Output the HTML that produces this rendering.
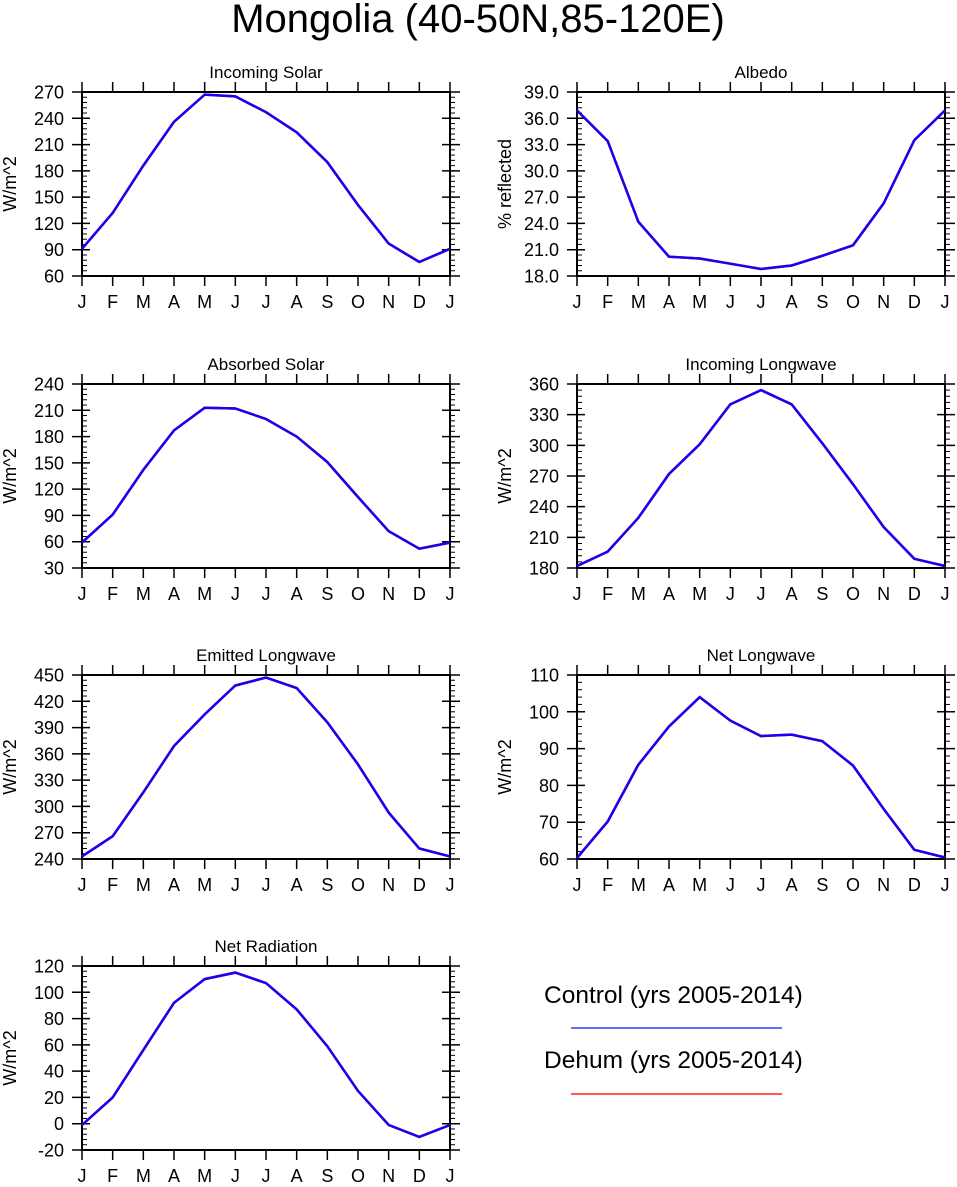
<!DOCTYPE html>
<html><head><meta charset="utf-8">
<style>
html,body{margin:0;padding:0;background:#fff;}
svg{display:block;font-family:"Liberation Sans",Arial,sans-serif;}
</style></head>
<body>
<svg id="chart" width="957" height="1187" viewBox="0 0 957 1187" xmlns="http://www.w3.org/2000/svg">
<text x="478" y="32" font-size="40" text-anchor="middle">Mongolia (40-50N,85-120E)</text>
<g>
<text x="544" y="1003" font-size="24.5">Control (yrs 2005-2014)</text>
<line x1="571" y1="1028" x2="782" y2="1028" stroke="#3b3bff" stroke-width="1.5"/>
<text x="544" y="1068" font-size="24.5">Dehum (yrs 2005-2014)</text>
<line x1="571" y1="1094" x2="782" y2="1094" stroke="#ff2020" stroke-width="1.5"/>
</g>
</svg>
<script>
const months = ["J","F","M","A","M","J","J","A","S","O","N","D","J"];
const incomingSolar = [91,132,186,236,267,265,247,224,190,141,97,76,91];
const albedo = [36.9,33.4,24.2,20.2,20.0,19.4,18.8,19.2,20.3,21.5,26.3,33.5,36.9];
const absorbedSolar = [59,91,142,187,213,212,200,180,151,111,72,52,59];
const incomingLW = [182,196,229,272,301,340,354,340,302,262,220,189,182];
const emittedLW = [243,266,316,369,405,438,447,435,396,348,293,252,243];
const netLW = [60.3,70.2,85.6,96,104,97.6,93.4,93.8,92,85.4,73.6,62.5,60.4];
const netRad = [-1,20,56,92,110,115,107,87,59,25,-1,-10,-1];
const ticksIncomingSolar = [60,90,120,150,180,210,240,270];
const ticksAlbedo = [18,21,24,27,30,33,36,39];
const ticksAbsorbed = [30,60,90,120,150,180,210,240];
const ticksIncomingLW = [180,210,240,270,300,330,360];
const ticksEmitted = [240,270,300,330,360,390,420,450];
const ticksNetLW = [60,70,80,90,100,110];
const ticksNetRad = [-20,0,20,40,60,80,100,120];

const NS="http://www.w3.org/2000/svg";
const svg=document.getElementById('chart');
function mk(tag,attrs,parent){const e=document.createElementNS(NS,tag);for(const k in attrs)e.setAttribute(k,attrs[k]);(parent||svg).appendChild(e);return e;}

const panels=[
 {name:"incoming-solar",title:"Incoming Solar",ylab:"W/m^2",data:incomingSolar,ticks:ticksIncomingSolar,dec:0,x:82,y:92},
 {name:"albedo",title:"Albedo",ylab:"% reflected",data:albedo,ticks:ticksAlbedo,dec:1,x:577,y:92},
 {name:"absorbed-solar",title:"Absorbed Solar",ylab:"W/m^2",data:absorbedSolar,ticks:ticksAbsorbed,dec:0,x:82,y:384},
 {name:"incoming-longwave",title:"Incoming Longwave",ylab:"W/m^2",data:incomingLW,ticks:ticksIncomingLW,dec:0,x:577,y:384},
 {name:"emitted-longwave",title:"Emitted Longwave",ylab:"W/m^2",data:emittedLW,ticks:ticksEmitted,dec:0,x:82,y:675},
 {name:"net-longwave",title:"Net Longwave",ylab:"W/m^2",data:netLW,ticks:ticksNetLW,dec:0,x:577,y:675},
 {name:"net-radiation",title:"Net Radiation",ylab:"W/m^2",data:netRad,ticks:ticksNetRad,dec:0,x:82,y:966}
];
const W=368,H=184;
panels.forEach(p=>{
 const g=mk('g',{});
 
 
 const lo=p.ticks[0],hi=p.ticks[p.ticks.length-1];
 const sx=i=>p.x+i*W/(months.length-1);
 const sy=v=>p.y+H-(v-lo)/(hi-lo)*H;
 const t=mk('text',{x:p.x+W/2,y:p.y-14,'font-size':17,'text-anchor':'middle'},g);
 
 
 t.textContent=p.title;
 const yl=mk('text',{transform:`translate(${p.x-66},${p.y+H/2}) rotate(-90)`,'font-size':18,'text-anchor':'middle'},g);
 
 
 yl.textContent=p.ylab;
 const step=p.ticks[1]-p.ticks[0];
 p.ticks.forEach((v,k)=>{
  const y=sy(v);
  mk('line',{x1:p.x-10,x2:p.x+8,y1:y,y2:y,stroke:'#000','stroke-width':1.5},g);
  mk('line',{x1:p.x+W-8,x2:p.x+W+10,y1:y,y2:y,stroke:'#000','stroke-width':1.5},g);
  const lb=mk('text',{x:p.x-18,y:y+6.5,'font-size':18,'text-anchor':'end'},g);
  
  
  lb.textContent=v.toFixed(p.dec);
  if(k<p.ticks.length-1){for(let m=1;m<5;m++){const yy=sy(v+step*m/5);
   mk('line',{x1:p.x,x2:p.x+5,y1:yy,y2:yy,stroke:'#000','stroke-width':1},g);
   mk('line',{x1:p.x+W,x2:p.x+W+5,y1:yy,y2:yy,stroke:'#000','stroke-width':1},g);}}
 });
 months.forEach((m,i)=>{
  const x=sx(i);
  mk('line',{x1:x,x2:x,y1:p.y+H,y2:p.y+H+10,stroke:'#000','stroke-width':1.5},g);
  mk('line',{x1:x,x2:x,y1:p.y-10,y2:p.y,stroke:'#000','stroke-width':1.5},g);
  const lb=mk('text',{x:x,y:p.y+H+32,'font-size':18,'text-anchor':'middle'},g);
  
  
  lb.textContent=m;
 });
 const fr=mk('rect',{x:p.x,y:p.y,width:W,height:H,fill:'none',stroke:'#000','stroke-width':2},g);
 
 
 const pts=p.data.map((v,i)=>sx(i).toFixed(1)+','+sy(v).toFixed(1)).join(' ');
 const dl=mk('polyline',{points:pts,fill:'none',stroke:'#ff0000','stroke-width':2.5},g);
 
 
 const cl=mk('polyline',{points:pts,fill:'none',stroke:'#1a00f5','stroke-width':2.5},g);
 
 
});
</script>
</body></html>
